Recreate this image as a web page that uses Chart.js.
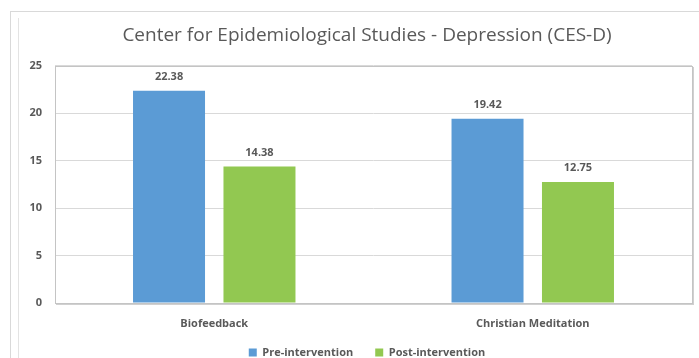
<!DOCTYPE html>
<html><head><meta charset="utf-8">
<script src="https://cdn.jsdelivr.net/npm/chart.js@4/dist/chart.umd.min.js"></script>
<style>
  html, body { margin: 0; padding: 0; background: #fff; }
  #wrap { position: relative; width: 699px; height: 358px; overflow: hidden; }
  #frameOuter { position: absolute; left: 10px; top: 11px; right: -10px; bottom: -10px;
    border-left: 1px solid #d9d9d9; border-top: 1px solid #d9d9d9; }
  #frameInner { position: absolute; left: 18px; top: 18px; width: 0; bottom: 0;
    border-left: 1px solid #e3e3e3; }
  canvas { position: absolute; left: 0; top: 0; }
</style>
</head>
<body>
<div id="wrap">
  <div id="frameOuter"></div>
  <div id="frameInner"></div>
  <canvas id="chart" width="699" height="358"></canvas>
</div>
<script>
// CES-D scores before and after each intervention
const categories = ["Biofeedback", "Christian Meditation"];
const preIntervention = [22.38, 19.42];
const postIntervention = [14.38, 12.75];
const seriesNames = ["Pre-intervention", "Post-intervention"];
const yTicks = [0, 5, 10, 15, 20, 25];

const FONT = "'Open Sans', 'Noto Sans', sans-serif";
const TEXT = "#595959";

// Tick labels may run outside their (deliberately narrow) axis boxes
const unclipLabels = scale => { scale._computeLabelArea = () => undefined; };

// Box round the plot area: thin on top/left, heavier on right/bottom
const plotBox = {
  id: 'plotBox',
  afterDraw(chart) {
    const { ctx, chartArea: a } = chart;
    ctx.save();
    ctx.strokeStyle = '#c4c4c4';
    ctx.lineWidth = 1;
    ctx.strokeRect(Math.round(a.left) + 0.5, Math.round(a.top) + 0.5,
                   Math.round(a.right - a.left), Math.round(a.bottom - a.top));
    ctx.strokeStyle = '#d0d0d0';
    ctx.beginPath();
    ctx.moveTo(Math.round(a.right) + 1.5, Math.round(a.top) + 1);
    ctx.lineTo(Math.round(a.right) + 1.5, Math.round(a.bottom) + 2);
    ctx.moveTo(Math.round(a.left) + 1, Math.round(a.bottom) + 1.5);
    ctx.lineTo(Math.round(a.right) + 2, Math.round(a.bottom) + 1.5);
    ctx.stroke();
    ctx.restore();
  }
};

// Value labels above each bar
const valueLabels = {
  id: 'valueLabels',
  afterDatasetsDraw(chart) {
    const { ctx } = chart;
    ctx.save();
    ctx.font = "bold 11px " + FONT;
    ctx.fillStyle = TEXT;
    ctx.textAlign = 'center';
    ctx.textBaseline = 'middle';
    chart.data.datasets.forEach((ds, i) => {
      chart.getDatasetMeta(i).data.forEach((bar, j) => {
        ctx.fillText(ds.data[j].toFixed(2), bar.x, bar.y - 14);
      });
    });
    ctx.restore();
  }
};

new Chart(document.getElementById('chart'), {
  type: 'bar',
  data: {
    labels: categories,
    datasets: [
      { label: seriesNames[0], data: preIntervention, backgroundColor: '#5b9bd5',
        categoryPercentage: 0.568, barPercentage: 0.796 },
      { label: seriesNames[1], data: postIntervention, backgroundColor: '#92c851',
        categoryPercentage: 0.568, barPercentage: 0.796 }
    ]
  },
  options: {
    responsive: false,
    animation: false,
    devicePixelRatio: 1,
    layout: { padding: { left: 42, right: 7, top: 0, bottom: 0 } },
    plugins: {
      tooltip: { enabled: false },
      title: {
        display: true,
        text: 'Center for Epidemiological Studies - Depression (CES-D)',
        color: TEXT,
        font: { family: FONT, size: 19, weight: 'normal' },
        padding: { top: 24, bottom: 19 }
      },
      legend: {
        position: 'bottom',
        maxHeight: 33,
        labels: {
          color: TEXT,
          font: { family: FONT, size: 11, weight: 'bold' },
          boxWidth: 8, boxHeight: 8,
          padding: 22
        }
      }
    },
    scales: {
      x: {
        afterFit(scale) { scale.height = 22; unclipLabels(scale); },
        grid: { display: false, drawTicks: false },
        border: { display: false },
        ticks: { color: TEXT, font: { family: FONT, size: 11, weight: 'bold' }, padding: 14 }
      },
      y: {
        min: yTicks[0], max: yTicks[yTicks.length - 1],
        afterFit(scale) { scale.width = 13; unclipLabels(scale); },
        afterBuildTicks(scale) { scale.ticks = yTicks.map(v => ({ value: v })); },
        grid: { color: '#d9d9d9', drawTicks: false },
        border: { display: false },
        ticks: { color: TEXT, font: { family: FONT, size: 11, weight: 'bold' }, padding: 13 }
      }
    }
  },
  plugins: [plotBox, valueLabels]
});
</script>
</body></html>
